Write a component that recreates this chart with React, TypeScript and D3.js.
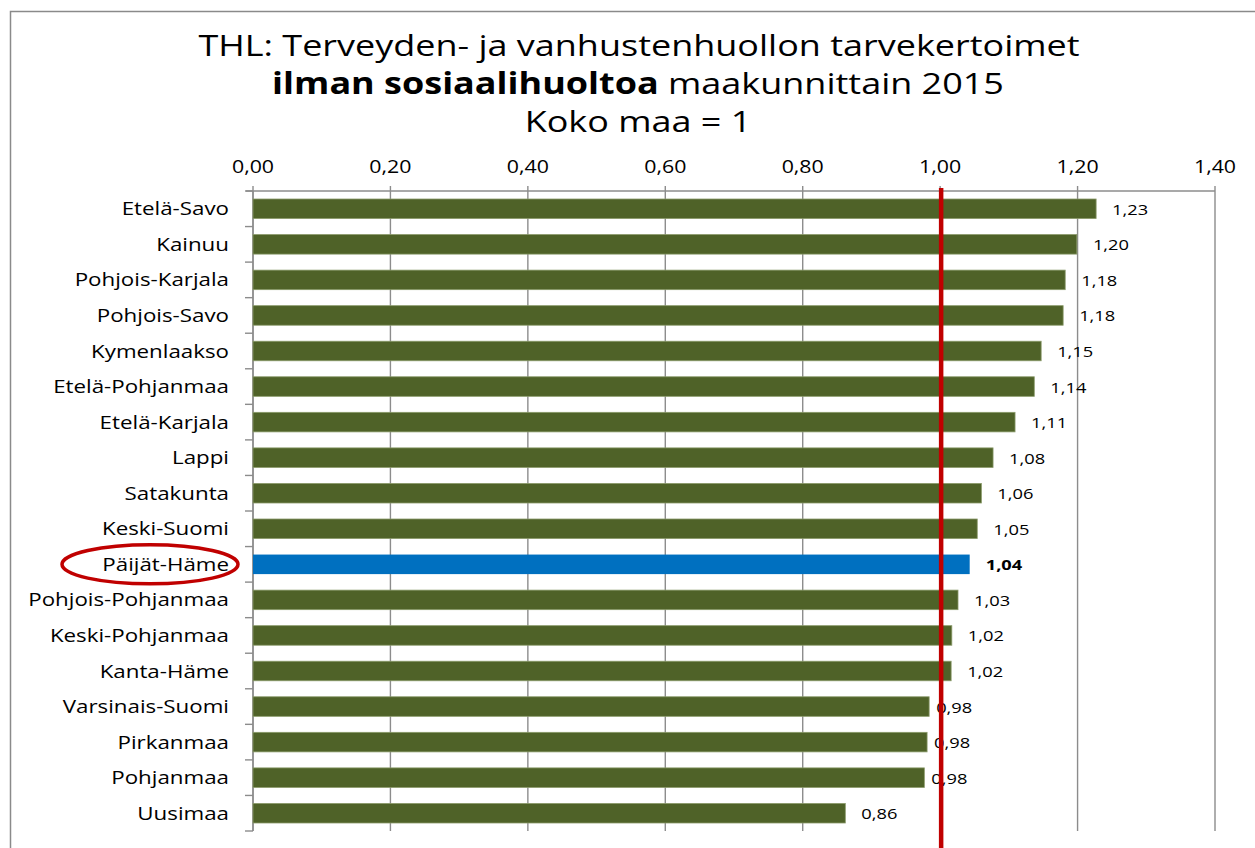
import React from "react";
import * as d3 from "d3";

const categories = [
  "Etelä-Savo",
  "Kainuu",
  "Pohjois-Karjala",
  "Pohjois-Savo",
  "Kymenlaakso",
  "Etelä-Pohjanmaa",
  "Etelä-Karjala",
  "Lappi",
  "Satakunta",
  "Keski-Suomi",
  "Päijät-Häme",
  "Pohjois-Pohjanmaa",
  "Keski-Pohjanmaa",
  "Kanta-Häme",
  "Varsinais-Suomi",
  "Pirkanmaa",
  "Pohjanmaa",
  "Uusimaa",
];

const values = [
  1.227, 1.199, 1.182, 1.179, 1.147, 1.137, 1.109, 1.077, 1.06, 1.054, 1.043,
  1.026, 1.017, 1.016, 0.984, 0.981, 0.977, 0.862,
];

const highlighted = "Päijät-Häme";
const referenceValue = 1.0;
const xDomain = [0, 1.4];

const titleLine1 = "THL: Terveyden- ja vanhustenhuollon tarvekertoimet";
const titleLine2Bold = "ilman sosiaalihuoltoa";
const titleLine2Rest = " maakunnittain 2015";
const titleLine3 = "Koko maa = 1";

const FONT = "'Open Sans', sans-serif";
const SX = 1.22;
const GREEN = "#4f6228";
const BLUE = "#0070c0";
const RED = "#c00000";
const GRID = "#8c8c8c";

const fmt = (v: number) => d3.format(".2f")(v).replace(".", ",");

function SText(props: {
  x: number;
  y: number;
  anchor?: "start" | "middle" | "end";
  size: number;
  weight?: string | number;
  children: React.ReactNode;
  sx?: number;
}) {
  const { x, y, anchor = "start", size, weight = "normal", children, sx = SX } = props;
  return (
    <text
      transform={`translate(${x},${y}) scale(${sx},1)`}
      textAnchor={anchor}
      fontFamily={FONT}
      fontSize={size}
      fontWeight={weight}
      fill="#000"
    >
      {children}
    </text>
  );
}

export default function App() {
  const W = 1255;
  const H = 848;
  const left = 253;
  const right = 1215;
  const top = 191;
  const bottom = 831;

  const x = d3.scaleLinear().domain(xDomain).range([left, right]);
  const y = d3
    .scaleBand<string>()
    .domain(categories)
    .range([top, bottom])
    .paddingInner(0.45)
    .paddingOuter(0.225);

  const ticks = x.ticks(7);
  const step = y.step();
  const boundaries = d3.range(categories.length + 1).map((i) => top + i * step);
  const data = categories.map((c, i) => ({ name: c, value: values[i] }));

  const hy = (y(highlighted) ?? 0) + y.bandwidth() / 2;
  const TITLE_SIZE = 29.5;

  return (
    <svg
      width={W}
      height={H}
      style={{ position: "absolute", left: 0, top: 0, display: "block", background: "#fff" }}
    >
      <rect x={0} y={0} width={W} height={H} fill="#fff" />
      <rect x={10.5} y={11.5} width={1400} height={1000} fill="none" stroke="#8a8a8a" strokeWidth={1.5} />

      {/* Title */}
      <SText x={639} y={56} anchor="middle" size={TITLE_SIZE}>
        {titleLine1}
      </SText>
      <text
        transform={`translate(638,94) scale(${SX},1)`}
        textAnchor="middle"
        fontFamily={FONT}
        fontSize={TITLE_SIZE}
        fill="#000"
      >
        <tspan fontWeight="bold">{titleLine2Bold}</tspan>
        <tspan>{titleLine2Rest}</tspan>
      </text>
      <SText x={638} y={132} anchor="middle" size={TITLE_SIZE}>
        {titleLine3}
      </SText>

      {/* Gridlines */}
      {ticks.map((t) => (
        <line key={"g" + t} x1={x(t)} x2={x(t)} y1={top - 5} y2={bottom} stroke={GRID} strokeWidth={1.4} />
      ))}
      {/* Top axis line */}
      <line x1={left - 7} x2={right} y1={top} y2={top} stroke={GRID} strokeWidth={1.4} />
      {/* Left axis line */}
      <line x1={left} x2={left} y1={top} y2={bottom} stroke={GRID} strokeWidth={1.4} />
      {boundaries.map((b, i) => (
        <line key={"b" + i} x1={left - 8} x2={left} y1={b} y2={b} stroke={GRID} strokeWidth={1.4} />
      ))}

      {/* Tick labels */}
      {ticks.map((t) => (
        <SText key={"t" + t} x={x(t)} y={173} anchor="middle" size={17.5}>
          {fmt(t)}
        </SText>
      ))}

      {/* Bars */}
      {data.map((d) => (
        <rect
          key={d.name}
          x={x(0)}
          y={y(d.name)}
          width={x(d.value) - x(0)}
          height={y.bandwidth()}
          fill={d.name === highlighted ? BLUE : GREEN}
          stroke={d.name === highlighted ? "none" : "#8a9a6a"}
          strokeWidth={0.8}
        />
      ))}

      {/* Value labels */}
      {data.map((d) => {
        const gap = d.value < referenceValue && d.value > 0.95 ? 7 : 16;
        return (
          <SText
            key={"v" + d.name}
            x={x(d.value) + gap}
            y={(y(d.name) ?? 0) + y.bandwidth() / 2 + 6}
            size={15}
            weight={d.name === highlighted ? "bold" : "normal"}
          >
            {fmt(d.value)}
          </SText>
        );
      })}

      {/* Reference line */}
      <line
        x1={x(referenceValue) + 1}
        x2={x(referenceValue) + 1}
        y1={top - 3}
        y2={H}
        stroke={RED}
        strokeWidth={4.5}
      />

      {/* Category labels */}
      {data.map((d) => (
        <SText
          key={"c" + d.name}
          x={229}
          y={(y(d.name) ?? 0) + y.bandwidth() / 2 + 6.5}
          anchor="end"
          size={18.3}
        >
          {d.name}
        </SText>
      ))}

      {/* Highlight ellipse */}
      <ellipse cx={150} cy={hy} rx={88} ry={19.5} fill="none" stroke={RED} strokeWidth={3.5} />
    </svg>
  );
}
